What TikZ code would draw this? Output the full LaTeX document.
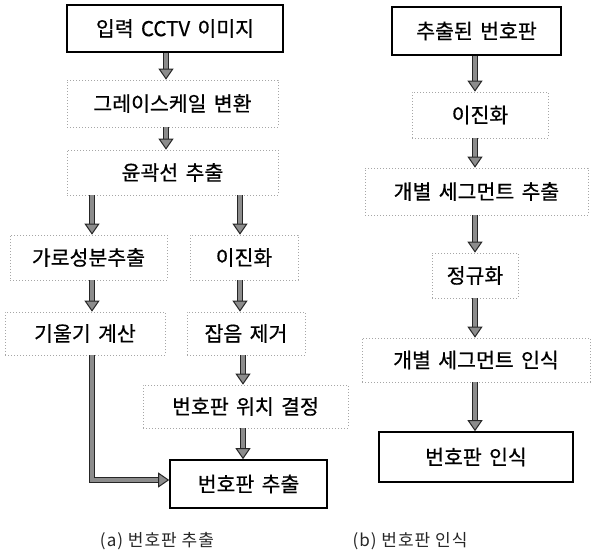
\documentclass[tikz,border=0pt]{standalone}
\usepackage{fontspec}
\setmainfont{Noto Sans CJK KR}
\newfontfamily\boxfont{Noto Sans CJK KR}[FakeBold=0.6, WordSpace=1.6]
\newfontfamily\capfont{Noto Sans CJK KR}[LetterSpace=6]
\usetikzlibrary{arrows.meta}
\tikzset{
  solidbox/.style={draw=black, line width=1.6pt, rectangle, inner sep=0pt, font=\boxfont\fontsize{20.5}{24}\selectfont},
  dotbox/.style={draw=black!35, dash pattern=on 0.8pt off 2.2pt, line width=0.7pt, rectangle, inner sep=0pt, font=\boxfont\fontsize{20.5}{24}\selectfont},
  fat/.style={draw=black!85, line width=1pt, double=black!45, double distance=4pt, -{Triangle[width=15pt,length=11pt,fill=black!45]}},
  caption/.style={font=\capfont\fontsize{17}{20}\selectfont, text=black!85}
}
\begin{document}
\begin{tikzpicture}[x=1pt,y=-1pt]
\useasboundingbox (0,0) rectangle (593,559);
% left column
\node[solidbox, minimum width=216pt, minimum height=47pt] (n1) at (175,28.5) {입력 CCTV 이미지};
\node[dotbox, minimum width=211pt, minimum height=47pt] (n2) at (172.5,103.5) {그레이스케일 변환};
\node[dotbox, minimum width=211pt, minimum height=45pt] (n3) at (172.5,172.5) {윤곽선 추출};
\node[dotbox, minimum width=157pt, minimum height=45pt] (n4a) at (88.5,257.5) {가로성분추출};
\node[dotbox, minimum width=108pt, minimum height=45pt] (n4b) at (244,257.5) {이진화};
\node[dotbox, minimum width=160pt, minimum height=43pt] (n5a) at (85,333.5) {기울기 계산};
\node[dotbox, minimum width=118pt, minimum height=43pt] (n5b) at (246,333.5) {잡음 제거};
\node[dotbox, minimum width=205pt, minimum height=43pt] (n6) at (245.5,406.5) {번호판 위치 결정};
\node[solidbox, minimum width=157pt, minimum height=48pt] (n7) at (248.5,484) {번호판 추출};
\coordinate (bend) at (92,480);
% right column
\node[solidbox, minimum width=169pt, minimum height=48pt] (m1) at (476.5,31) {추출된 번호판};
\node[dotbox, minimum width=136pt, minimum height=46pt] (m2) at (480,115) {이진화};
\node[dotbox, minimum width=223pt, minimum height=47pt] (m3) at (476.5,191.5) {개별 세그먼트 추출};
\node[dotbox, minimum width=86pt, minimum height=45pt] (m4) at (475,275.5) {정규화};
\node[dotbox, minimum width=228pt, minimum height=44pt] (m5) at (476,360) {개별 세그먼트 인식};
\node[solidbox, minimum width=194pt, minimum height=50pt] (m6) at (476,457) {번호판 인식};
% captions
\node[caption] (capa) at (157,541) {(a) 번호판 추출};
\node[caption] (capb) at (410,541) {(b) 번호판 인식};
% arrows left
\draw[fat] (n1.south -| 166,0) -- (n2.north -| 166,0);
\draw[fat] (n2.south -| 166,0) -- (n3.north -| 166,0);
\draw[fat] (n3.south -| 92,0) -- (n4a.north -| 92,0);
\draw[fat] (n3.south -| 240,0) -- (n4b.north -| 240,0);
\draw[fat] (n4a.south -| 92,0) -- (n5a.north -| 92,0);
\draw[fat] (n4b.south -| 240,0) -- (n5b.north -| 240,0);
\draw[fat] (n5b.south -| 243,0) -- (n6.north -| 243,0);
\draw[fat] (n6.south -| 243,0) -- (n7.north -| 243,0);
\draw[fat] (n5a.south -| bend) -- (bend) -- (bend -| n7.west);
% arrows right
\draw[fat] (m1.south -| 475,0) -- (m2.north -| 475,0);
\draw[fat] (m2.south -| 475,0) -- (m3.north -| 475,0);
\draw[fat] (m3.south -| 475,0) -- (m4.north -| 475,0);
\draw[fat] (m4.south -| 475,0) -- (m5.north -| 475,0);
\draw[fat] (m5.south -| 475,0) -- (m6.north -| 475,0);
\end{tikzpicture}
\end{document}
